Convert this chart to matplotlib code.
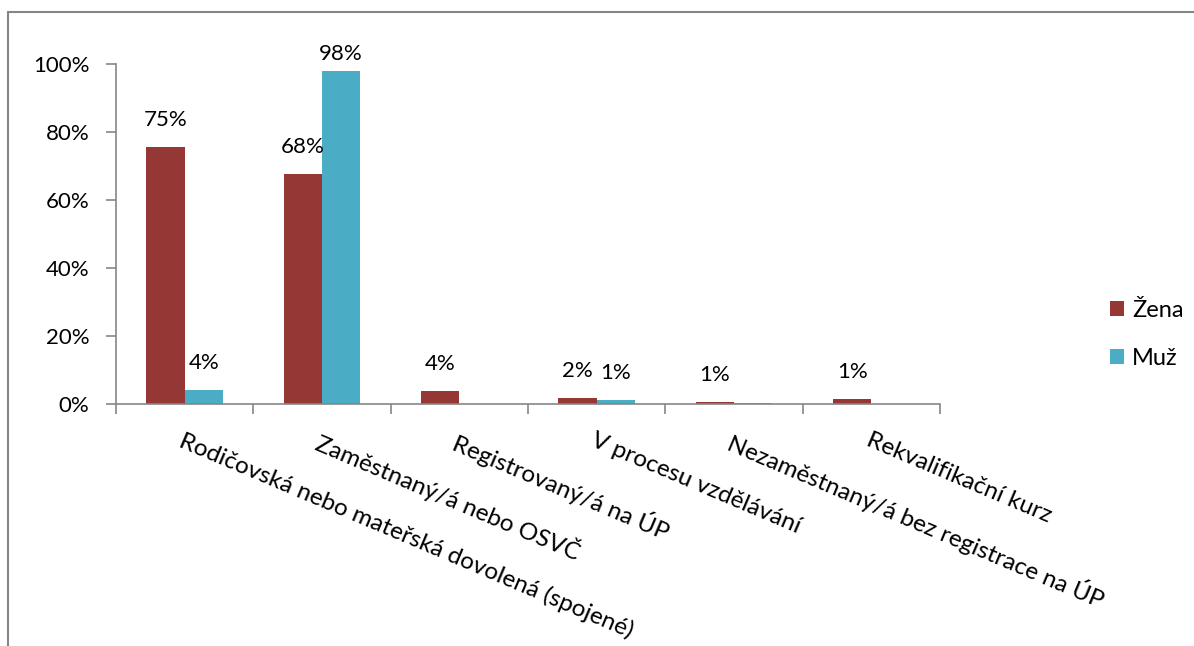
import matplotlib.pyplot as plt
import numpy as np
from matplotlib.patches import Rectangle

categories = ["Rodičovská nebo mateřská dovolená (spojené)",
              "Zaměstnaný/á nebo OSVČ",
              "Registrovaný/á na ÚP",
              "V procesu vzdělávání",
              "Nezaměstnaný/á bez registrace na ÚP",
              "Rekvalifikační kurz"]
zena = [75.5, 67.7, 3.7, 1.7, 0.7, 1.4]
muz = [4.1, 98.0, 0.0, 1.1, 0.3, 0.0]
zena_labels = ["75%", "68%", "4%", "2%", "1%", "1%"]
muz_labels = ["4%", "98%", "", "1%", "", ""]

plt.rcParams['font.family'] = ['Lato', 'DejaVu Sans']
grey = "#868686"

fig = plt.figure(figsize=(11.94, 6.46), dpi=100)
ax = fig.add_axes([116/1194, 1-404/646, 824/1194, 340/646])

x = np.arange(len(categories))
w = 0.28
b1 = ax.bar(x - w/2, zena, w, color="#953735", label="Žena")
b2 = ax.bar(x + w/2, muz, w, color="#4BACC6", label="Muž")

for bars, labs in ((b1, zena_labels), (b2, muz_labels)):
    for r, t in zip(bars, labs):
        if t:
            h = r.get_height()
            # labels near the top get pushed down to stay inside the plot
            off = 19.5 if h < 90 else 12
            ax.annotate(t, (r.get_x() + r.get_width()/2, h),
                        xytext=(0, off), textcoords="offset points",
                        ha="center", va="center", fontsize=16)

ax.set_xlim(-0.5, len(categories) - 0.5)
ax.set_ylim(0, 100)
ax.set_yticks(np.arange(0, 101, 20))
ax.set_yticklabels([f"{v}%" for v in range(0, 101, 20)], fontsize=16)
ax.set_xticks(np.arange(-0.5, len(categories), 1))
ax.set_xticklabels([])
ax.tick_params(axis='x', length=7, color=grey, width=1.2)
ax.tick_params(axis='y', length=7, color=grey, width=1.2, pad=12)

for s in ('top', 'right'):
    ax.spines[s].set_visible(False)
for s in ('left', 'bottom'):
    ax.spines[s].set_color(grey)
    ax.spines[s].set_linewidth(1.2)

for i, c in enumerate(categories):
    ax.text(i, -7.5, c, rotation=-23, rotation_mode='anchor',
            ha='left', va='top', fontsize=17.5)

ax.legend(loc='center left', bbox_to_anchor=(1.18, 0.205), frameon=False,
          fontsize=17, handlelength=0.6, handleheight=0.6,
          labelspacing=1.15, handletextpad=0.35)

fig.patches.append(Rectangle((8/1194, -0.1), 2, 1 - 12/646 + 0.1,
                             transform=fig.transFigure, fill=False,
                             edgecolor=grey, linewidth=1.5))

fig.savefig("out.png", dpi=100)
